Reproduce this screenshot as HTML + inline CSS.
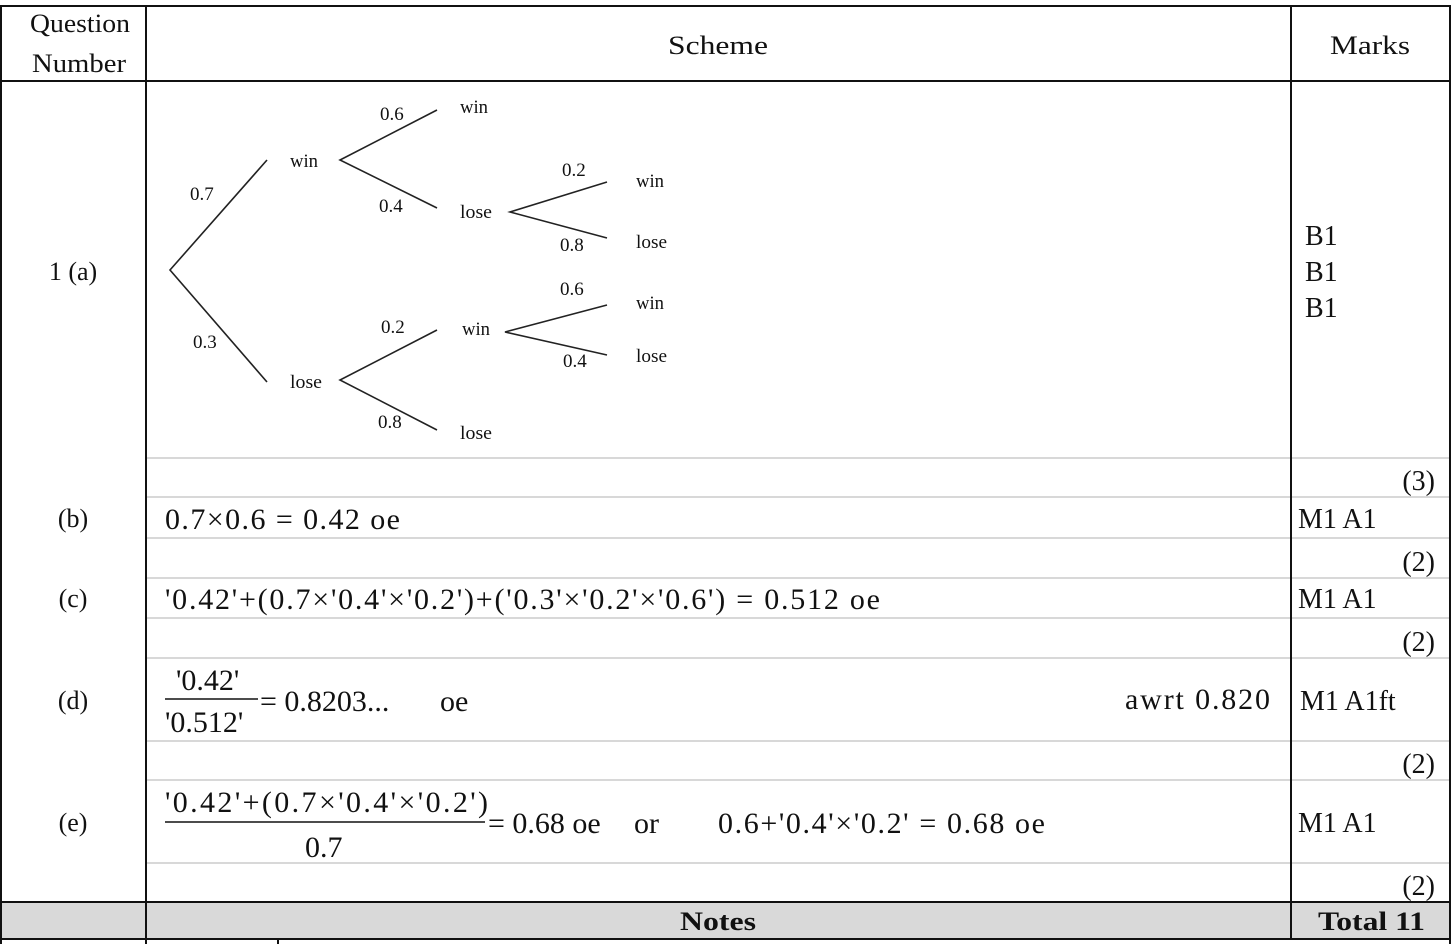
<!DOCTYPE html>
<html><head><meta charset="utf-8"><style>
html,body{margin:0;padding:0;background:#fff;}
svg{display:block;}
text{font-family:"Liberation Serif",serif;fill:#111;}
</style></head><body>
<svg width="1456" height="944" viewBox="0 0 1456 944" xmlns="http://www.w3.org/2000/svg">
<rect x="1" y="902" width="1449" height="37" fill="#d9d9d9"/>
<g stroke="#d8d8d8" stroke-width="2">
<line x1="147" y1="458" x2="1450" y2="458"/>
<line x1="147" y1="497" x2="1450" y2="497"/>
<line x1="147" y1="538" x2="1450" y2="538"/>
<line x1="147" y1="578" x2="1450" y2="578"/>
<line x1="147" y1="618" x2="1450" y2="618"/>
<line x1="147" y1="658" x2="1450" y2="658"/>
<line x1="147" y1="741" x2="1450" y2="741"/>
<line x1="147" y1="780" x2="1450" y2="780"/>
<line x1="147" y1="863" x2="1450" y2="863"/>
</g>
<g stroke="#111" stroke-width="2" fill="none">
<line x1="0" y1="6" x2="1451" y2="6"/>
<line x1="0" y1="81" x2="1451" y2="81"/>
<line x1="0" y1="902" x2="1451" y2="902"/>
<line x1="0" y1="939" x2="1451" y2="939"/>
<line x1="1" y1="6" x2="1" y2="944"/>
<line x1="146" y1="6" x2="146" y2="944"/>
<line x1="1291" y1="6" x2="1291" y2="939"/>
<line x1="1450" y1="6" x2="1450" y2="944"/>
<line x1="278" y1="939" x2="278" y2="944"/>
</g>
<g font-size="26">
<text x="30" y="32" textLength="100" lengthAdjust="spacingAndGlyphs">Question</text>
<text x="32" y="72" textLength="94" lengthAdjust="spacingAndGlyphs">Number</text>
<text x="668" y="54" textLength="100" lengthAdjust="spacingAndGlyphs">Scheme</text>
<text x="1330" y="54" textLength="80" lengthAdjust="spacingAndGlyphs">Marks</text>
<text x="73" y="280" text-anchor="middle">1 (a)</text>
<text x="73" y="527" text-anchor="middle">(b)</text>
<text x="73" y="607" text-anchor="middle">(c)</text>
<text x="73" y="709" text-anchor="middle">(d)</text>
<text x="73" y="831" text-anchor="middle">(e)</text>
</g>
<g stroke="#222" stroke-width="1.6" fill="none">
<polyline points="267,160 170,270 267,382"/>
<polyline points="437,110 340,160 437,208"/>
<polyline points="607,182 510,212 607,238"/>
<polyline points="437,330 340,380 437,430"/>
<polyline points="607,305 505,332 607,355"/>
</g>
<g font-size="19">
<text x="290" y="167" textLength="28" lengthAdjust="spacingAndGlyphs">win</text>
<text x="460" y="113" textLength="28" lengthAdjust="spacingAndGlyphs">win</text>
<text x="460" y="218" textLength="32" lengthAdjust="spacingAndGlyphs">lose</text>
<text x="636" y="187" textLength="28" lengthAdjust="spacingAndGlyphs">win</text>
<text x="636" y="248" textLength="31" lengthAdjust="spacingAndGlyphs">lose</text>
<text x="290" y="388" textLength="32" lengthAdjust="spacingAndGlyphs">lose</text>
<text x="462" y="335" textLength="28" lengthAdjust="spacingAndGlyphs">win</text>
<text x="460" y="439" textLength="32" lengthAdjust="spacingAndGlyphs">lose</text>
<text x="636" y="309" textLength="28" lengthAdjust="spacingAndGlyphs">win</text>
<text x="636" y="362" textLength="31" lengthAdjust="spacingAndGlyphs">lose</text>
<text x="190" y="200">0.7</text>
<text x="193" y="348">0.3</text>
<text x="380" y="120">0.6</text>
<text x="379" y="212">0.4</text>
<text x="562" y="176">0.2</text>
<text x="560" y="251">0.8</text>
<text x="560" y="295">0.6</text>
<text x="563" y="367">0.4</text>
<text x="381" y="333">0.2</text>
<text x="378" y="428">0.8</text>
</g>
<g font-size="28">
<text x="1305" y="245">B1</text>
<text x="1305" y="281">B1</text>
<text x="1305" y="317">B1</text>
<text x="1435" y="490" text-anchor="end">(3)</text>
<text x="1298" y="528">M1 A1</text>
<text x="1435" y="571" text-anchor="end">(2)</text>
<text x="1298" y="608">M1 A1</text>
<text x="1435" y="651" text-anchor="end">(2)</text>
<text x="1300" y="710">M1 A1ft</text>
<text x="1435" y="773" text-anchor="end">(2)</text>
<text x="1298" y="832">M1 A1</text>
<text x="1435" y="895" text-anchor="end">(2)</text>
</g>
<g font-size="30">
<text x="165" y="529" textLength="235" lengthAdjust="spacing">0.7×0.6 = 0.42 oe</text>
<text x="165" y="609" textLength="715" lengthAdjust="spacing">'0.42'+(0.7×'0.4'×'0.2')+('0.3'×'0.2'×'0.6') = 0.512 oe</text>
<text x="176" y="690">'0.42'</text>
<text x="165" y="732">'0.512'</text>
<text x="260" y="711">= 0.8203...</text>
<text x="440" y="711">oe</text>
<text x="1125" y="709" textLength="145" lengthAdjust="spacing">awrt 0.820</text>
<text x="165" y="812" textLength="323" lengthAdjust="spacing">'0.42'+(0.7×'0.4'×'0.2')</text>
<text x="305" y="857">0.7</text>
<text x="488" y="833">= 0.68 oe</text>
<text x="634" y="833">or</text>
<text x="718" y="833" textLength="327" lengthAdjust="spacing">0.6+'0.4'×'0.2' = 0.68 oe</text>
<text x="680" y="930" font-weight="bold" textLength="76" lengthAdjust="spacingAndGlyphs" font-size="26">Notes</text>
<text x="1318" y="930" font-weight="bold" textLength="107" lengthAdjust="spacingAndGlyphs" font-size="26">Total 11</text>
</g>
<g stroke="#111" stroke-width="1.5">
<line x1="165" y1="699" x2="258" y2="699"/>
<line x1="165" y1="822" x2="485" y2="822"/>
</g>
</svg>
</body></html>
